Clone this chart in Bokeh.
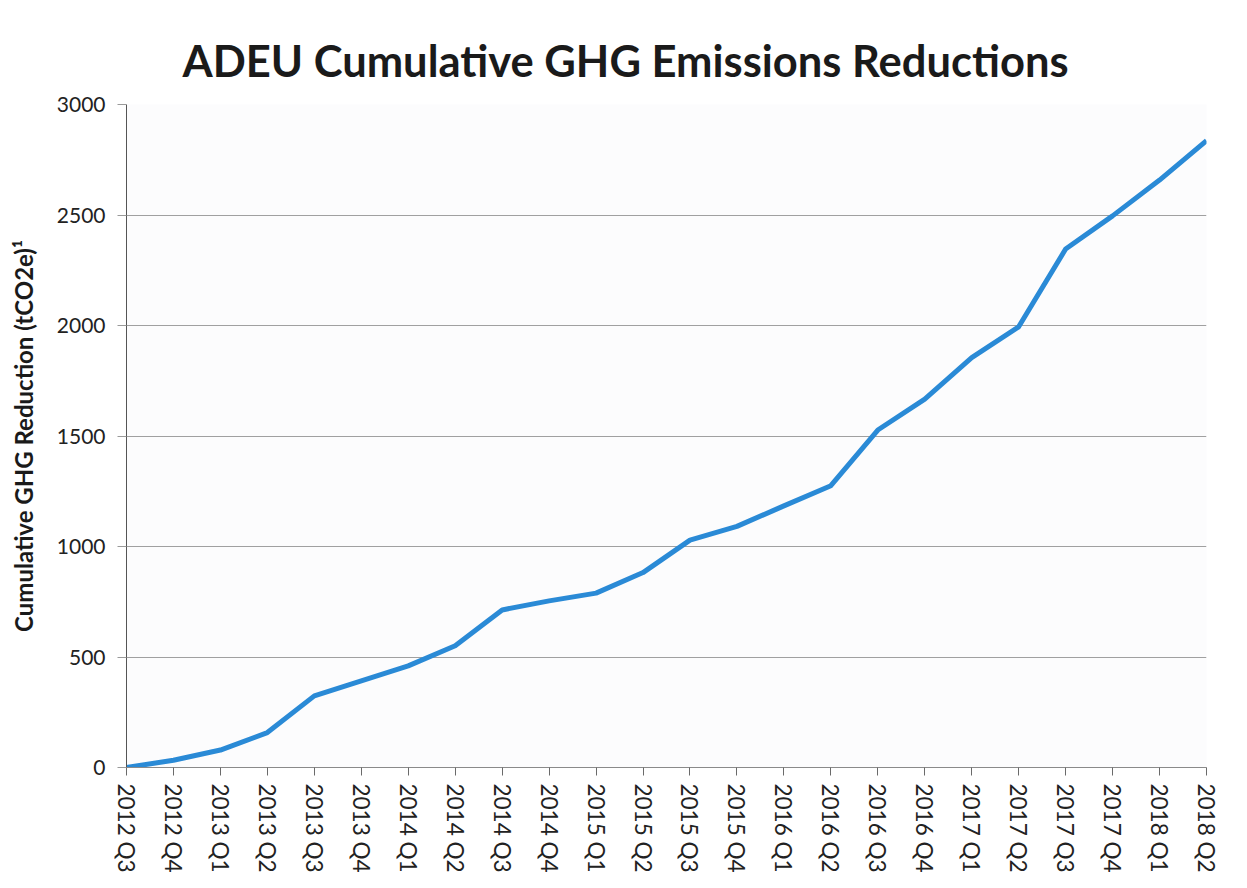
from bokeh.plotting import figure
from bokeh.models import Range1d, FixedTicker
from bokeh.embed import file_html
from bokeh.resources import INLINE

quarters = ["2012 Q3", "2012 Q4", "2013 Q1", "2013 Q2", "2013 Q3", "2013 Q4",
            "2014 Q1", "2014 Q2", "2014 Q3", "2014 Q4", "2015 Q1", "2015 Q2",
            "2015 Q3", "2015 Q4", "2016 Q1", "2016 Q2", "2016 Q3", "2016 Q4",
            "2017 Q1", "2017 Q2", "2017 Q3", "2017 Q4", "2018 Q1", "2018 Q2"]
reduction = [0, 33, 79, 158, 324, 392, 460, 551, 713, 754, 789, 882,
             1029, 1091, 1184, 1275, 1527, 1667, 1855, 1994, 2346, 2496, 2658, 2836]
y_ticks = [0, 500, 1000, 1500, 2000, 2500, 3000]

FONT = "Lato"
xs = list(range(len(quarters)))

p = figure(width=1239, height=880, output_backend="svg", toolbar_location=None,
           x_range=Range1d(0, len(quarters) - 1), y_range=Range1d(0, 3000),
           min_border_left=126, min_border_right=33, min_border_top=104,
           min_border_bottom=113, background_fill_color="#fcfcfd",
           border_fill_color="white", outline_line_color=None)

p.title.text = "ADEU Cumulative GHG Emissions Reductions"
p.title.text_font = FONT
p.title.text_font_style = "bold"
p.title.text_font_size = "43.5px"
p.title.text_color = "#1a1a1a"
p.title.align = "left"
p.title.offset = 56
p.title.standoff = 38

p.line(xs, reduction, line_color="#2a8ad6", line_width=5, line_join="round")

# x axis
p.xaxis.ticker = FixedTicker(ticks=xs)
p.xaxis.major_label_overrides = {i: q for i, q in enumerate(quarters)}
p.xaxis.major_label_orientation = "vertical"
p.xaxis.major_label_text_font = FONT
p.xaxis.major_label_text_font_size = "22.5px"
p.xaxis.major_label_text_color = "#222222"
p.xaxis.major_label_standoff = 8
p.xaxis.axis_line_color = "#8a8a8a"
p.xaxis.major_tick_line_color = "#6a6a6a"
p.xaxis.major_tick_in = 0
p.xaxis.major_tick_out = 8
p.xaxis.minor_tick_line_color = None

# y axis
p.yaxis.ticker = FixedTicker(ticks=y_ticks)
p.yaxis.major_label_text_font = FONT
p.yaxis.major_label_text_font_size = "21px"
p.yaxis.major_label_text_color = "#222222"
p.yaxis.major_label_standoff = 12
p.yaxis.axis_line_color = "#555555"
p.yaxis.major_tick_line_color = "#9a9a9a"
p.yaxis.major_tick_in = 0
p.yaxis.major_tick_out = 9
p.yaxis.minor_tick_line_color = None
p.yaxis.axis_label = "Cumulative GHG Reduction (tCO2e)\u00b9"
p.yaxis.axis_label_text_font = FONT
p.yaxis.axis_label_text_font_style = "bold"
p.yaxis.axis_label_text_font_size = "24px"
p.yaxis.axis_label_text_color = "#1a1a1a"
p.yaxis.axis_label_standoff = 16

p.xgrid.grid_line_color = None
p.ygrid.ticker = FixedTicker(ticks=[500, 1000, 1500, 2000, 2500])
p.ygrid.grid_line_color = "#a0a0a0"
p.ygrid.grid_line_width = 1

open("out.html", "w").write(file_html(p, INLINE))
